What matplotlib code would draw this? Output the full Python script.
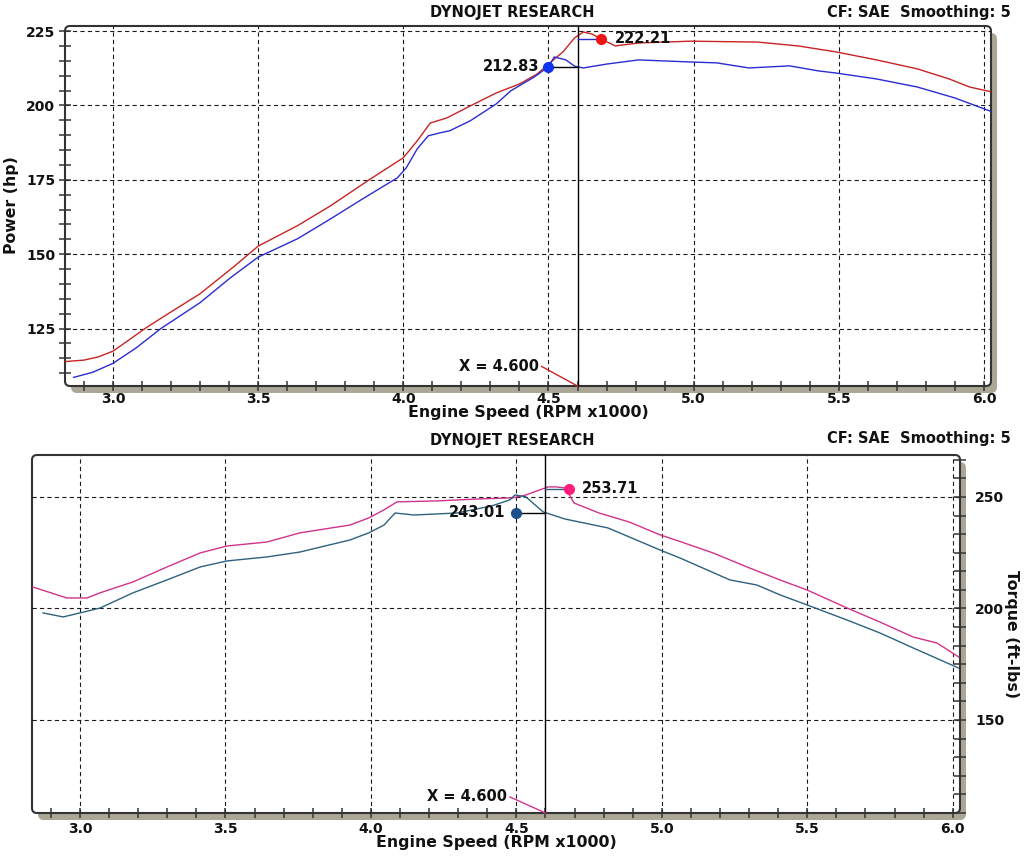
# dyno_plot.py
# Two-panel dyno chart: power (hp) on top, torque (ft-lbs) below, vs engine speed.
import numpy as np
import matplotlib
matplotlib.use("Agg")
import matplotlib.pyplot as plt
from matplotlib.patches import FancyBboxPatch
from matplotlib.transforms import IdentityTransform
from matplotlib.ticker import MultipleLocator, FormatStrFormatter

# --- data (rpm x1000, value) ---
hp_red_rpm = [2.835, 2.90, 2.95, 3.00, 3.05, 3.11, 3.20, 3.30, 3.42, 3.50, 3.636, 3.75,
              3.887, 4.00, 4.048, 4.093, 4.15, 4.23, 4.32, 4.40, 4.46, 4.50, 4.55, 4.59,
              4.62, 4.65, 4.68, 4.73, 4.81, 4.99, 5.22, 5.36, 5.49, 5.63, 5.77, 5.88,
              5.95, 6.024]
hp_red = [113.9, 114.4, 115.5, 117.4, 120.8, 125.0, 130.6, 136.7, 146.1, 152.7, 159.6, 166.3,
          175.3, 182.4, 188.1, 194.1, 195.8, 199.8, 204.2, 207.2, 210.5, 213.9, 218.0, 222.7,
          224.7, 224.0, 222.4, 220.0, 221.0, 221.6, 221.3, 220.0, 218.0, 215.3, 212.3, 208.9,
          206.2, 204.6]

hp_blue_rpm = [2.865, 2.93, 3.00, 3.08, 3.165, 3.30, 3.405, 3.50, 3.636, 3.75, 3.86, 3.98,
               4.01, 4.048, 4.086, 4.127, 4.16, 4.23, 4.32, 4.37, 4.45, 4.50, 4.52, 4.56,
               4.59, 4.62, 4.70, 4.81, 4.99, 5.08, 5.19, 5.33, 5.43, 5.49, 5.63, 5.77,
               5.90, 6.024]
hp_blue = [108.6, 110.3, 113.3, 118.5, 125.0, 133.7, 142.1, 149.0, 155.2, 161.9, 168.6, 175.7,
           179.0, 185.4, 189.8, 190.8, 191.5, 194.8, 200.5, 204.9, 209.5, 213.0, 216.3, 215.3,
           213.2, 212.6, 213.9, 215.3, 214.6, 214.3, 212.6, 213.3, 211.6, 210.9, 208.9, 206.2,
           202.5, 198.0]

tq_pink_rpm = [2.838, 2.955, 3.024, 3.069, 3.182, 3.299, 3.413, 3.505, 3.643, 3.756, 3.928,
               3.993, 4.045, 4.090, 4.224, 4.372, 4.488, 4.533, 4.609, 4.636, 4.67, 4.698,
               4.784, 4.887, 4.994, 5.063, 5.176, 5.293, 5.406, 5.499, 5.637, 5.750, 5.864,
               5.946, 6.020]
tq_pink = [209.6, 204.7, 204.7, 207.0, 211.9, 218.6, 224.9, 228.0, 229.8, 233.9, 237.4,
           240.6, 244.2, 247.8, 248.2, 249.1, 249.6, 250.9, 254.5, 254.5, 254.0, 247.3,
           242.8, 238.8, 233.0, 230.0, 224.9, 218.6, 212.8, 208.3, 200.2, 193.9, 187.2,
           184.5, 178.3]

tq_teal_rpm = [2.873, 2.942, 3.00, 3.069, 3.182, 3.299, 3.413, 3.505, 3.643, 3.756, 3.928,
               3.993, 4.045, 4.083, 4.148, 4.296, 4.416, 4.478, 4.495, 4.533, 4.592, 4.667,
               4.815, 4.994, 5.063, 5.234, 5.327, 5.406, 5.499, 5.637, 5.750, 5.864, 6.020]
tq_teal = [198.0, 196.2, 198.0, 200.2, 207.0, 212.8, 218.6, 221.3, 223.1, 225.3, 230.7,
           233.9, 237.4, 242.8, 241.9, 242.8, 246.0, 248.7, 250.9, 250.0, 243.3, 240.1,
           236.1, 226.2, 222.6, 212.8, 210.5, 206.1, 201.6, 194.8, 189.0, 182.3, 173.3]

# peak markers (rpm, value)
hp_peak_blue = (4.50, 212.83)
hp_peak_red = (4.68, 222.21)
tq_peak_teal = (4.50, 243.01)
tq_peak_pink = (4.68, 253.71)
cursor_x = 4.600

W, H = 1024, 866
RED, BLUE = "#c82323", "#2b2bd2"
PINK, TEAL = "#d0338a", "#2d627f"
FRAME = "#333333"
SHADOW = "#aba797"
TXT = "#111111"

plt.rcParams["font.family"] = ["DejaVu Sans"]
plt.rcParams["font.weight"] = "bold"


def px_box(fig, left, top, right, bottom):
    """Rounded white frame with a grey drop shadow, in pixel coords (y from top)."""
    w, h = right - left, bottom - top
    y0 = H - bottom
    shadow = FancyBboxPatch((left + 6, y0 - 7), w, h,
                            boxstyle="round,pad=0,rounding_size=6",
                            fc=SHADOW, ec="none", transform=IdentityTransform(), zorder=-2)
    box = FancyBboxPatch((left, y0), w, h, boxstyle="round,pad=0,rounding_size=5",
                         fc="white", ec=FRAME, lw=1.5, transform=IdentityTransform(), zorder=-1)
    fig.add_artist(shadow)
    fig.add_artist(box)
    return fig.add_axes([left / W, y0 / H, w / W, h / H])


def style_axes(ax):
    ax.set_facecolor("none")
    for s in ax.spines.values():
        s.set_visible(False)
    ax.grid(True, which="major", color="#1a1a1a", lw=0.8, linestyle=(0, (3.8, 2.9)))
    ax.xaxis.set_major_locator(MultipleLocator(0.5))
    ax.xaxis.set_minor_locator(MultipleLocator(0.1))
    ax.xaxis.set_major_formatter(FormatStrFormatter("%.1f"))
    ax.tick_params(axis="x", which="both", direction="inout", length=7, width=1.1,
                   color=FRAME, labelsize=10, pad=0.5, labelcolor=TXT)
    ax.set_axisbelow(True)


fig = plt.figure(figsize=(W / 100, H / 100), dpi=100)
fig.patch.set_facecolor("white")

# ---------------- top: power ----------------
ax1 = px_box(fig, 65, 26, 991, 386)
style_axes(ax1)
ax1.set_xlim(2.835, 6.024)
ax1.set_ylim(105.7, 226.7)
ax1.set_yticks([125, 150, 175, 200, 225])
ax1.yaxis.set_minor_locator(MultipleLocator(5))
ax1.tick_params(axis="y", which="both", direction="inout", length=8, width=1.1,
                color=FRAME, labelsize=10, pad=3, labelcolor=TXT)

ax1.plot(hp_red_rpm, hp_red, color=RED, lw=1.0, zorder=3)
ax1.plot(hp_blue_rpm, hp_blue, color=BLUE, lw=1.0, zorder=3)
ax1.axvline(cursor_x, color="black", lw=1.0, zorder=4)

ax1.plot([hp_peak_blue[0], cursor_x], [hp_peak_blue[1]] * 2, color="black", lw=1.0, zorder=4)
ax1.plot([cursor_x, hp_peak_red[0]], [hp_peak_red[1]] * 2, color=BLUE, lw=1.0, zorder=4)
ax1.plot(*hp_peak_blue, "o", ms=7, color="#1133ee", zorder=5)
ax1.plot(*hp_peak_red, "o", ms=7, color="#ee1515", zorder=5)
ax1.text(hp_peak_blue[0] - 0.032, hp_peak_blue[1] + 0.3, f"{hp_peak_blue[1]:.2f}",
         ha="right", va="center", fontsize=10.5, color=TXT)
ax1.text(hp_peak_red[0] + 0.05, hp_peak_red[1] + 0.3, f"{hp_peak_red[1]:.2f}",
         ha="left", va="center", fontsize=10.5, color=TXT)

ax1.plot([4.476, cursor_x], [112.3, 105.7], color=RED, lw=1.0, zorder=4, clip_on=False)
ax1.text(4.466, 112.3, f"X = {cursor_x:.3f}", ha="right", va="center", fontsize=10.5, color=TXT)

fig.text(528 / W, 1 - 413 / H, "Engine Speed (RPM x1000)", ha="center", va="center",
         fontsize=11.3, color=TXT)
fig.text(12 / W, 1 - 205 / H, "Power (hp)", ha="center", va="center", rotation=90,
         fontsize=11.3, color=TXT)
fig.text(512 / W, 1 - 13 / H, "DYNOJET RESEARCH", ha="center", va="center",
         fontsize=10.5, color=TXT)
fig.text(1011 / W, 1 - 13 / H, "CF: SAE  Smoothing: 5", ha="right", va="center",
         fontsize=10.5, color=TXT)

# ---------------- bottom: torque ----------------
ax2 = px_box(fig, 32, 455, 960, 813)
style_axes(ax2)
ax2.set_xlim(2.835, 6.025)
ax2.set_ylim(108.3, 268.8)
ax2.set_yticks([150, 200, 250])
ax2.yaxis.set_minor_locator(MultipleLocator(50 / 6))
ax2.yaxis.tick_right()
ax2.tick_params(axis="y", which="both", direction="inout", length=8, width=1.1,
                color=FRAME, labelsize=10, pad=7, labelcolor=TXT)
ax2.tick_params(axis="x", pad=3)

ax2.plot(tq_pink_rpm, tq_pink, color=PINK, lw=1.0, zorder=3)
ax2.plot(tq_teal_rpm, tq_teal, color=TEAL, lw=1.0, zorder=3)
ax2.axvline(cursor_x, color="black", lw=1.0, zorder=4)

ax2.plot([tq_peak_teal[0], cursor_x], [tq_peak_teal[1]] * 2, color="black", lw=1.0, zorder=4)
ax2.plot([cursor_x, tq_peak_pink[0]], [tq_peak_pink[1]] * 2, color=TEAL, lw=1.0, zorder=4)
ax2.plot(*tq_peak_teal, "o", ms=7, color="#1d4f8a", zorder=5)
ax2.plot(*tq_peak_pink, "o", ms=7, color="#ff1f7a", zorder=5)
ax2.text(tq_peak_teal[0] - 0.037, tq_peak_teal[1] - 0.2, f"{tq_peak_teal[1]:.2f}",
         ha="right", va="center", fontsize=10.5, color=TXT)
ax2.text(tq_peak_pink[0] + 0.046, tq_peak_pink[1] - 0.1, f"{tq_peak_pink[1]:.2f}",
         ha="left", va="center", fontsize=10.5, color=TXT)

ax2.plot([4.478, cursor_x], [115.5, 108.3], color=PINK, lw=1.0, zorder=4, clip_on=False)
ax2.text(4.468, 115.5, f"X = {cursor_x:.3f}", ha="right", va="center", fontsize=10.5, color=TXT)

fig.text(496 / W, 1 - 843 / H, "Engine Speed (RPM x1000)", ha="center", va="center",
         fontsize=11.3, color=TXT)
fig.text(1012 / W, 1 - 634 / H, "Torque (ft-lbs)", ha="center", va="center", rotation=270,
         fontsize=11.3, color=TXT)
fig.text(512 / W, 1 - 441 / H, "DYNOJET RESEARCH", ha="center", va="center",
         fontsize=10.5, color=TXT)
fig.text(1011 / W, 1 - 438 / H, "CF: SAE  Smoothing: 5", ha="right", va="center",
         fontsize=10.5, color=TXT)

fig.savefig("out.png", dpi=100, facecolor="white")
